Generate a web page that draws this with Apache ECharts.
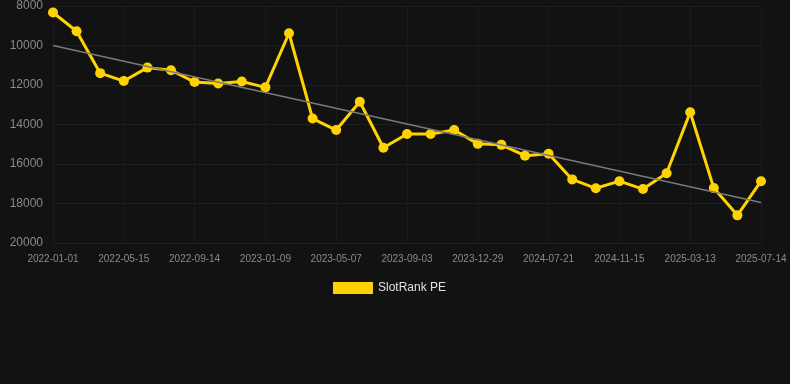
<!DOCTYPE html>
<html>
<head>
<meta charset="utf-8">
<script src="https://cdn.jsdelivr.net/npm/echarts@6/dist/echarts.min.js"></script>
<style>
  html, body { margin: 0; padding: 0; background: #121212; }
  #chart { width: 790px; height: 384px; }
</style>
</head>
<body>
<div id="chart"></div>
<script>
// dates (only every 3rd one is labelled on the axis)
const dates = [
  '2022-01-01', '2022-02-14', '2022-03-31', '2022-05-15', '2022-06-16', '2022-07-18',
  '2022-09-14', '2022-10-22', '2022-12-01', '2023-01-09', '2023-02-14', '2023-03-31',
  '2023-05-07', '2023-06-12', '2023-07-20', '2023-09-03', '2023-10-12', '2023-11-20',
  '2023-12-29', '2024-03-10', '2024-05-15', '2024-07-21', '2024-08-30', '2024-10-08',
  '2024-11-15', '2024-12-25', '2025-02-02', '2025-03-13', '2025-04-22', '2025-06-01',
  '2025-07-14'
];
const rankValues = [
  8330, 9280, 11400, 11800, 11120, 11250, 11850, 11920, 11820, 12120, 9380,
  13700, 14280, 12850, 15180, 14480, 14480, 14280, 14980, 15030, 15580,
  15480, 16780, 17230, 16870, 17270, 16470, 13380, 17220, 18600, 16870
];
const trendStart = 10000;
const trendEnd = 17950;

const font = 'Arial, "Liberation Sans", sans-serif';
const chart = echarts.init(document.getElementById('chart'));
chart.setOption({
  backgroundColor: '#121212',
  animation: false,
  grid: { left: 53, right: 29, top: 6, bottom: 141 },
  legend: {
    data: ['SlotRank PE'],
    top: 277,
    left: 328,
    itemWidth: 40,
    itemHeight: 12,
    itemGap: 6,
    icon: 'rect',
    textStyle: { color: '#e0e0e0', fontSize: 12, fontFamily: font }
  },
  xAxis: {
    type: 'category',
    data: dates,
    boundaryGap: false,
    axisLine: { show: false },
    axisTick: { show: false },
    axisLabel: { interval: 2, color: '#8a8a8a', fontSize: 10, margin: 11, fontFamily: font },
    splitLine: { show: true, interval: 2, lineStyle: { color: '#1a1a1a', width: 1 } }
  },
  yAxis: {
    type: 'value',
    inverse: true,
    min: 8000,
    max: 20000,
    interval: 2000,
    axisLine: { show: false },
    axisTick: { show: false },
    axisLabel: { color: '#8a8a8a', fontSize: 12, margin: 10, fontFamily: font, formatter: v => String(v) },
    splitLine: { lineStyle: { color: '#1e1e1e', width: 1 } }
  },
  series: [{
    name: 'SlotRank PE',
    type: 'line',
    data: rankValues,
    color: '#FFD300',
    symbol: 'circle',
    symbolSize: 10,
    lineStyle: { width: 3, color: '#FFD300' },
    itemStyle: { color: '#FFD300' },
    z: 3,
    markLine: {
      silent: true,
      symbol: 'none',
      label: { show: false },
      lineStyle: { color: '#7a7a7a', width: 1.5, type: 'solid' },
      data: [[
        { coord: [dates[0], trendStart] },
        { coord: [dates[dates.length - 1], trendEnd] }
      ]]
    }
  }]
});
</script>
</body>
</html>
